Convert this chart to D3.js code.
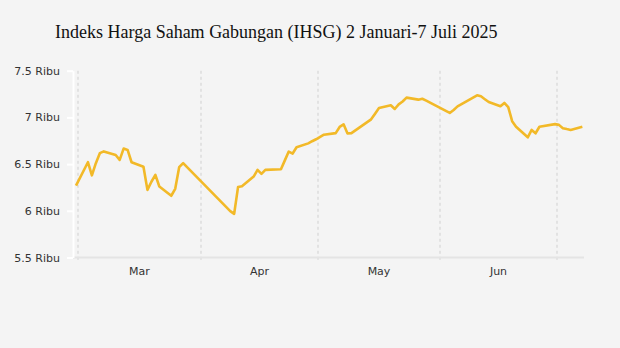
<!DOCTYPE html>
<html lang="id">
<head>
  <meta charset="UTF-8" />
  <title>IHSG 2 Januari-7 Juli 2025</title>
  <script src="https://d3js.org/d3.v7.min.js"></script>
  <style>
    html, body {
      margin: 0;
      padding: 0;
      background-color: #f4f4f4;
      overflow: hidden;
      width: 620px;
      height: 348px;
    }
    .title {
      font-family: "Liberation Serif", "Times New Roman", serif;
      font-size: 18px;
      fill: #111;
    }
    .tick-label {
      font-family: "DejaVu Sans", Verdana, sans-serif;
      font-size: 11px;
      fill: #333;
    }
  </style>
</head>
<body>
  <svg id="chart" width="620" height="348"></svg>

  <script>
    // IHSG closing level (points)
    const dates = [
      "2025-02-28", "2025-03-03", "2025-03-04", "2025-03-05", "2025-03-06", "2025-03-07",
      "2025-03-10", "2025-03-11", "2025-03-12", "2025-03-13", "2025-03-14",
      "2025-03-17", "2025-03-18", "2025-03-19", "2025-03-20", "2025-03-21",
      "2025-03-24", "2025-03-25", "2025-03-26", "2025-03-27",
      "2025-04-08", "2025-04-09", "2025-04-10", "2025-04-11",
      "2025-04-14", "2025-04-15", "2025-04-16", "2025-04-17",
      "2025-04-21", "2025-04-22", "2025-04-23", "2025-04-24", "2025-04-25",
      "2025-04-28", "2025-04-29", "2025-04-30", "2025-05-02",
      "2025-05-05", "2025-05-06", "2025-05-07", "2025-05-08", "2025-05-09",
      "2025-05-14", "2025-05-15", "2025-05-16",
      "2025-05-19", "2025-05-20", "2025-05-21", "2025-05-22", "2025-05-23",
      "2025-05-26", "2025-05-27", "2025-05-28",
      "2025-06-02", "2025-06-03", "2025-06-04", "2025-06-05",
      "2025-06-10", "2025-06-11", "2025-06-12", "2025-06-13",
      "2025-06-16", "2025-06-17", "2025-06-18", "2025-06-19", "2025-06-20",
      "2025-06-23", "2025-06-24", "2025-06-25", "2025-06-26",
      "2025-06-30", "2025-07-01", "2025-07-02", "2025-07-03", "2025-07-04",
      "2025-07-07"
    ];
    const values = [
      6270, 6520, 6380, 6510, 6617, 6636,
      6598, 6545, 6666, 6652, 6520,
      6472, 6224, 6311, 6385, 6260,
      6161, 6235, 6467, 6510,
      5996, 5967, 6254, 6262,
      6366, 6438, 6396, 6438,
      6445, 6540, 6634, 6613, 6680,
      6722, 6745, 6766, 6815,
      6832, 6898, 6926, 6828, 6832,
      6979, 7040, 7100,
      7130, 7090, 7140, 7170, 7212,
      7190, 7200, 7180,
      7070, 7048, 7080, 7118,
      7237, 7226, 7195, 7165,
      7120, 7155, 7110, 6960, 6900,
      6787, 6866, 6830, 6900,
      6928, 6920, 6885, 6875, 6866,
      6900
    ];
    const yTicks = [5500, 6000, 6500, 7000, 7500];
    const monthStarts = ["2025-03-01", "2025-04-01", "2025-05-01", "2025-06-01", "2025-07-01"];

    const parse = d3.timeParse("%Y-%m-%d");
    // each close is placed at mid-day of its date
    const data = dates.map((d, i) => ({ date: d3.timeHour.offset(parse(d), 12), value: values[i] }));
    const months = monthStarts.map(parse);

    const svg = d3.select("#chart");

    const x = d3.scaleTime()
      .domain(months)
      .range([78, 201, 318, 440, 557]);

    const y = d3.scaleLinear()
      .domain([5500, 7500])
      .range([257.5, 70.7]);

    const axisX = 73;
    const plotRight = 584;

    svg.append("text")
      .attr("class", "title")
      .attr("x", 55)
      .attr("y", 37.5)
      .text("Indeks Harga Saham Gabungan (IHSG) 2 Januari-7 Juli 2025");

    // vertical dotted month gridlines
    svg.append("g")
      .selectAll("line")
      .data(months)
      .join("line")
      .attr("x1", d => x(d))
      .attr("x2", d => x(d))
      .attr("y1", y(7500))
      .attr("y2", y(5500) + 5)
      .attr("stroke", "#dcdcdc")
      .attr("stroke-width", 1.5)
      .attr("stroke-dasharray", "3,3");

    // x axis baseline
    svg.append("line")
      .attr("x1", axisX)
      .attr("x2", plotRight)
      .attr("y1", y(5500))
      .attr("y2", y(5500))
      .attr("stroke", "#e4e4e4")
      .attr("stroke-width", 2);

    // month labels in the middle of each month
    const fmtMonth = d3.timeFormat("%b");
    svg.append("g")
      .selectAll("text")
      .data(months.slice(0, -1))
      .join("text")
      .attr("class", "tick-label")
      .attr("x", (d, i) => (x(d) + x(months[i + 1])) / 2)
      .attr("y", 271)
      .attr("dy", "0.35em")
      .attr("text-anchor", "middle")
      .text(d => fmtMonth(d));

    // y axis
    const yAxis = svg.append("g")
      .attr("transform", `translate(${axisX},0)`)
      .call(d3.axisLeft(y)
        .tickValues(yTicks)
        .tickSize(6)
        .tickSizeOuter(0)
        .tickPadding(7)
        .tickFormat(d => `${d / 1000} Ribu`));

    yAxis.select(".domain").attr("stroke", "#ffffff").attr("stroke-width", 2);
    yAxis.selectAll(".tick line").attr("stroke", "#ffffff").attr("stroke-width", 2);
    yAxis.selectAll(".tick text")
      .attr("class", "tick-label")
      .attr("fill", null);
    yAxis.attr("font-family", null).attr("font-size", null);

    const line = d3.line()
      .x(d => x(d.date))
      .y(d => y(d.value));

    svg.append("path")
      .datum(data)
      .attr("fill", "none")
      .attr("stroke", "#f2b928")
      .attr("stroke-width", 2.6)
      .attr("stroke-linejoin", "round")
      .attr("d", line);
  </script>
</body>
</html>
